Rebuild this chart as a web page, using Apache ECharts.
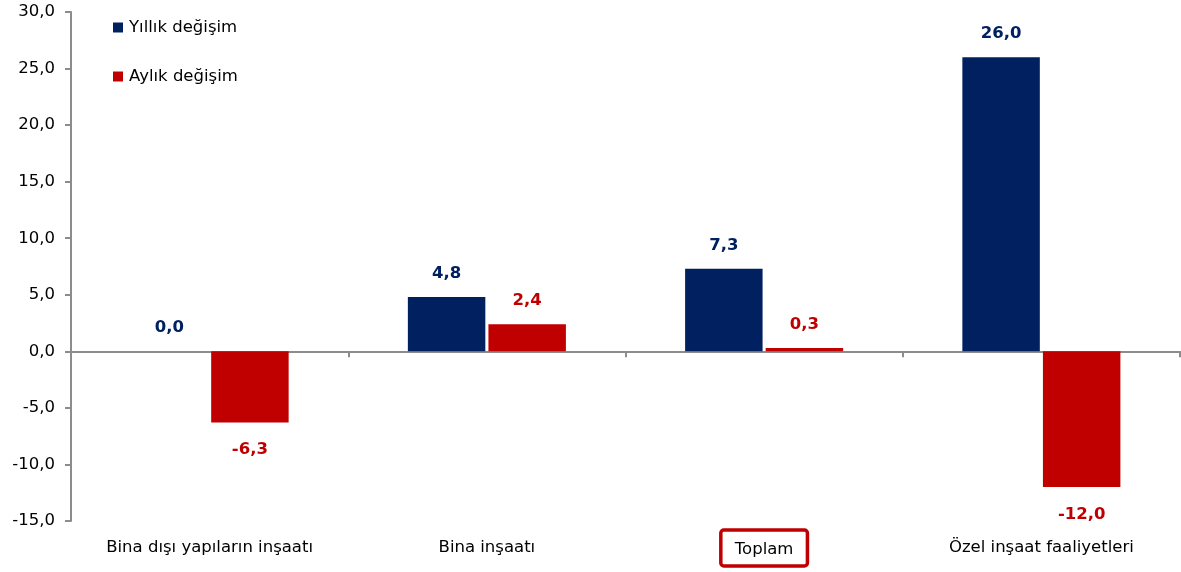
<!DOCTYPE html>
<html><head><meta charset="utf-8">
<script src="https://cdn.jsdelivr.net/npm/echarts@6/dist/echarts.min.js"></script>
<style>html,body{margin:0;padding:0;background:#fff}#c{width:1181px;height:572px}</style>
</head><body><div id="c"></div>
<script>
const categories = ['Bina dışı yapıların inşaatı', 'Bina inşaatı', 'Toplam', 'Özel inşaat faaliyetleri'];
const yillik = [0.0, 4.8, 7.3, 26.0];
const aylik = [-6.3, 2.4, 0.3, -12.0];
const seriesNames = ['Yıllık değişim', 'Aylık değişim'];
const colors = ['#002060', '#C00000'];
const highlightCategory = 'Toplam';

const FONT = 'DejaVu Sans';
function fmt(v){ return v.toFixed(1).replace('.', ','); }
function mkData(arr){
  return arr.map(v => ({
    value: v,
    label: { position: v < 0 ? 'bottom' : 'top', distance: v < 0 ? 19 : 15 }
  }));
}
const chart = echarts.init(document.getElementById('c'));
chart.setOption({
  animation: false,
  textStyle: { fontFamily: FONT },
  grid: { left: 71, right: 1, top: 12, bottom: 51, outerBoundsMode: 'none', containLabel: false },
  legend: {
    left: 108, top: 14, orient: 'vertical', itemGap: 32,
    itemWidth: 10, itemHeight: 10, icon: 'rect',
    textStyle: { fontFamily: FONT, fontSize: 16.5, color: '#000', padding: [0, 0, 0, 1] },
    data: seriesNames
  },
  xAxis: [{
    type: 'category', data: categories,
    axisLine: { onZero: true, lineStyle: { color: '#8c8c8c', width: 2 } },
    axisTick: { show: true, length: 6, lineStyle: { color: '#8c8c8c', width: 2 } },
    axisLabel: { show: false }
  }, {
    type: 'category', data: categories, position: 'bottom',
    axisLine: { show: false }, axisTick: { show: false },
    axisLabel: {
      margin: 27, fontSize: 16.5, color: '#000', fontFamily: FONT, verticalAlign: 'middle',
      formatter: v => v === highlightCategory ? '{box|' + v + '}' : v,
      rich: { box: { fontSize: 16.5, lineHeight: 20, color: '#000', fontFamily: FONT, borderColor: '#C00000', borderWidth: 3.5, borderRadius: 3, padding: [11, 14, 8, 14] } }
    }
  }],
  yAxis: {
    type: 'value', min: -15, max: 30, interval: 5,
    axisLine: { show: true, lineStyle: { color: '#8c8c8c', width: 2 } },
    axisTick: { show: true, length: 6, lineStyle: { color: '#8c8c8c', width: 2 } },
    splitLine: { show: false },
    axisLabel: { fontSize: 16.5, color: '#000', margin: 16, fontFamily: FONT, formatter: v => fmt(v) }
  },
  series: [
    { name: seriesNames[0], type: 'bar', data: mkData(yillik), itemStyle: { color: colors[0] },
      barGap: '4%', barCategoryGap: '43%',
      label: { show: true, fontWeight: 'bold', fontSize: 16.5, color: colors[0], fontFamily: FONT, formatter: p => fmt(p.value) } },
    { name: seriesNames[1], type: 'bar', data: mkData(aylik), itemStyle: { color: colors[1] },
      barGap: '4%', barCategoryGap: '43%',
      label: { show: true, fontWeight: 'bold', fontSize: 16.5, color: colors[1], fontFamily: FONT, formatter: p => fmt(p.value) } }
  ]
});
</script></body></html>
